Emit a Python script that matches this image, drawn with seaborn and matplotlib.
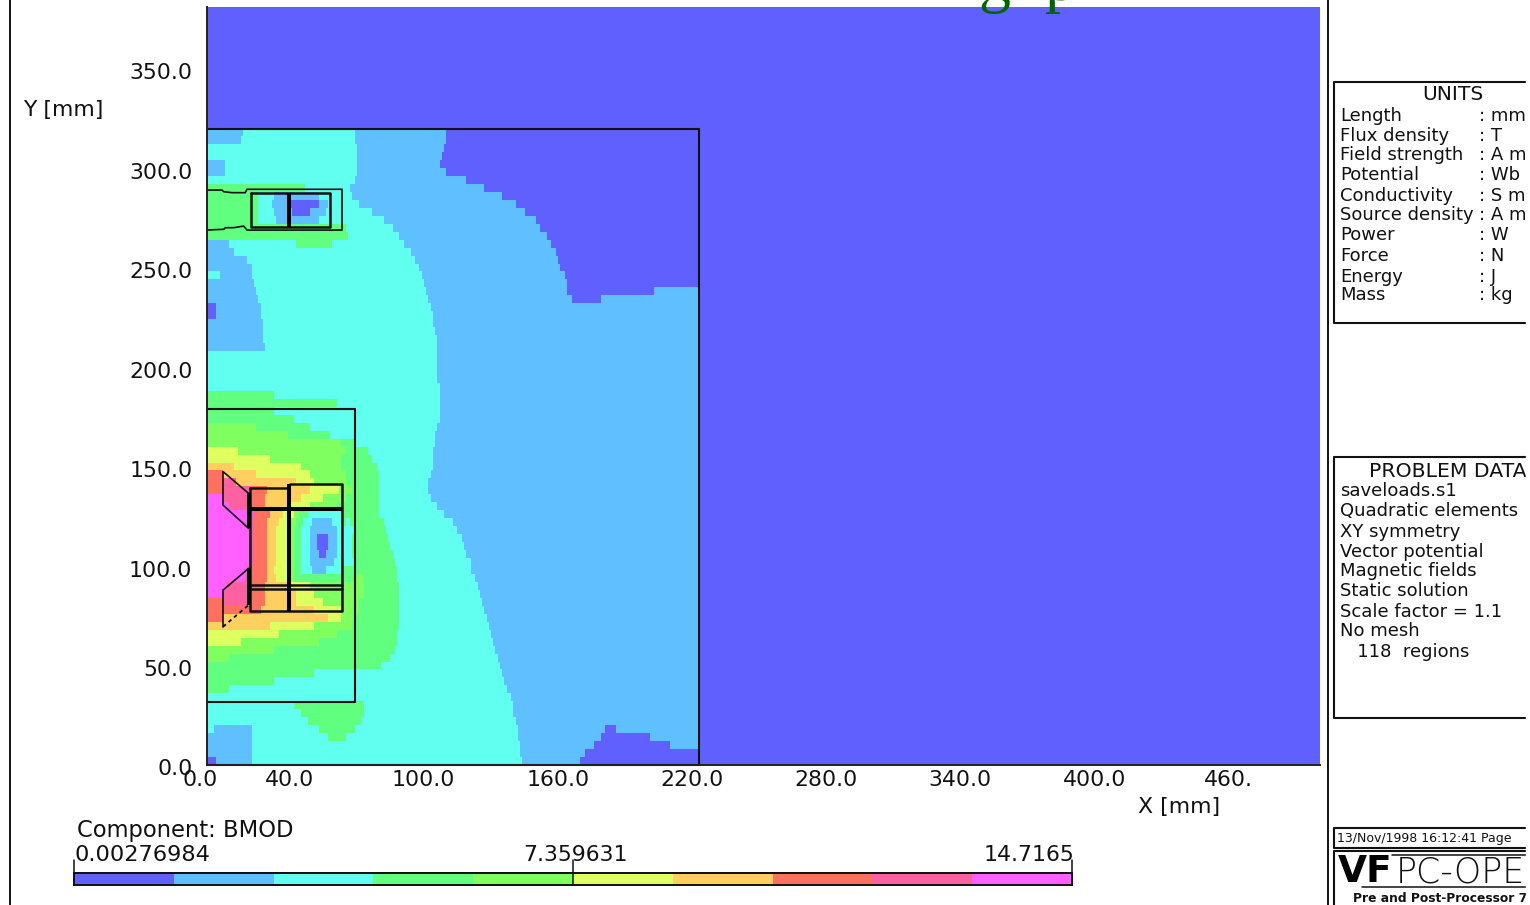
import numpy as np
import seaborn as sns
import matplotlib.pyplot as plt
from matplotlib.colors import ListedColormap

# BMOD bands, lowest to highest
band_colors = ["#6060FF", "#60BFFF", "#60FFEF", "#60FF80", "#80FF60",
               "#DFFF60", "#FFCF60", "#FF7060", "#FF60A0", "#FF60FF"]

# one row per 4 mm, y = 320 mm down to 0 mm, written as band:end_x_mm
band_rows = [
    "1:16 2:66 1:107 0:220",
    "1:15 2:66 1:107 0:220",
    "2:67 1:106 0:220",
    "2:67 1:105 0:220",
    "1:8 2:67 1:104 0:220",
    "1:8 2:67 1:107 0:220",
    "2:66 1:116 0:220",
    "3:44 2:64 1:124 0:220",
    "3:23 2:30 1:50 2:65 1:132 0:220",
    "3:23 2:29 1:36 0:50 1:54 2:68 1:138 0:220",
    "3:23 2:30 1:38 0:46 1:53 2:74 1:142 0:220",
    "3:23 2:31 1:50 2:79 1:147 0:220",
    "3:62 2:83 1:149 0:220",
    "3:63 2:86 1:152 0:220",
    "1:10 2:40 3:56 2:88 1:154 0:220",
    "1:12 2:91 1:156 0:220",
    "1:18 2:93 1:157 0:220",
    "1:20 2:95 1:158 0:220",
    "2:6 1:20 2:96 1:160 0:220",
    "1:21 2:97 1:161 0:220",
    "1:22 2:98 1:161 0:200 1:220",
    "1:23 2:99 1:163 0:176 1:220",
    "0:4 1:24 2:100 1:220",
    "0:4 1:24 2:101 1:220",
    "1:25 2:101 1:220",
    "1:25 2:102 1:220",
    "1:25 2:103 1:220",
    "1:26 2:103 1:220",
    "2:103 1:220",
    "2:103 1:220",
    "2:103 1:220",
    "2:103 1:220",
    "2:104 1:220",
    "3:30 2:104 1:220",
    "3:58 2:104 1:220",
    "3:30 2:104 1:220",
    "3:39 2:104 1:220",
    "4:22 3:46 2:103 1:220",
    "4:36 3:55 2:102 1:220",
    "4:60 3:66 2:102 1:220",
    "5:14 4:62 3:72 2:101 1:220",
    "5:28 4:60 3:74 2:101 1:220",
    "6:12 5:42 4:60 3:76 2:101 1:220",
    "7:7 6:22 5:46 4:62 3:77 2:100 1:220",
    "7:7 8:12 7:13 6:40 5:48 4:62 3:77 2:99 1:220",
    "7:7 8:20 7:27 6:46 5:59 4:65 3:77 2:99 1:220",
    "9:7 8:20 7:26 6:42 5:52 4:62 3:77 2:100 1:220",
    "9:10 8:19 7:26 6:36 5:46 4:58 3:77 2:103 1:220",
    "9:18 8:22 7:28 6:34 5:39 4:41 3:45 2:60 3:77 2:106 1:220",
    "9:19 8:21 7:27 6:32 5:37 4:40 3:43 2:47 1:56 2:60 3:62 2:64 3:79 2:110 1:220",
    "9:19 8:21 7:27 6:31 5:36 4:39 3:42 2:46 1:58 2:66 3:80 2:112 1:220",
    "9:19 8:21 7:27 6:31 5:36 4:39 3:42 2:46 1:49 0:54 1:58 2:65 3:81 2:114 1:220",
    "9:19 8:21 7:27 6:31 5:36 4:39 3:42 2:46 1:49 0:54 1:58 2:65 3:82 2:115 1:220",
    "9:19 8:21 7:27 6:31 5:36 4:39 3:42 2:46 1:50 0:53 1:58 2:65 3:83 2:116 1:220",
    "9:19 8:21 7:27 6:31 5:36 4:39 3:42 2:46 1:57 2:66 3:84 2:118 1:220",
    "9:18 8:20 7:27 6:30 5:36 4:39 3:42 2:47 1:53 2:60 3:85 2:118 1:220",
    "9:17 8:20 7:27 6:31 5:36 4:39 3:66 4:70 3:85 2:120 1:220",
    "9:9 8:18 7:26 6:36 5:46 4:70 3:86 2:121 1:220",
    "9:7 8:19 7:26 6:40 5:48 4:70 3:86 2:122 1:220",
    "7:7 8:18 7:26 6:40 5:52 4:68 3:86 2:123 1:220",
    "7:24 6:48 5:60 4:68 3:86 2:124 1:220",
    "7:7 6:54 5:60 4:66 3:86 2:125 1:220",
    "6:28 5:48 4:65 3:86 2:126 1:220",
    "5:32 4:58 3:85 2:127 1:220",
    "5:15 4:50 3:85 2:128 1:220",
    "4:30 3:84 2:129 1:220",
    "4:10 3:82 2:130 1:220",
    "3:78 2:131 1:220",
    "3:48 2:132 1:220",
    "3:30 2:133 1:220",
    "3:10 2:134 1:220",
    "2:136 1:220",
    "2:39 3:70 2:137 1:220",
    "2:42 3:70 2:137 1:220",
    "2:45 3:69 2:138 1:220",
    "2:3 1:20 2:50 3:66 2:139 1:178 0:183 1:220",
    "1:20 2:54 3:62 2:139 1:176 0:198 1:220",
    "1:20 2:140 1:173 0:207 1:220",
    "1:20 2:140 1:169 0:220",
    "0:4 1:20 2:141 1:167 0:220",
]

x_ticks = [0, 40, 100, 160, 220, 280, 340, 400, 460]
x_labels = ["0.0", "40.0", "100.0", "160.0", "220.0", "280.0", "340.0", "400.0", "460."]
y_ticks = [0, 50, 100, 150, 200, 250, 300, 350]
y_labels = ["0.0", "50.0", "100.0", "150.0", "200.0", "250.0", "300.0", "350.0"]

# model outlines in mm
outer_box = ([0, 220, 220, 0], [319.6, 319.6, 0, 0])
lower_box = ([0, 66.3, 66.3, 0], [178.7, 178.7, 31.8, 31.8])
thin_lines = [
    ([0, 6.7, 7.5, 11.2, 17.1, 17.9, 60.4, 60.4, 17.9, 16.4, 11.9, 8.2, 7.5, 0],
     [288.9, 288.9, 288.1, 287.6, 287.6, 289.3, 289.3, 268.8, 268.8, 270.8, 270, 270, 269.2, 268.8]),
    ([7.2, 18.6], [147.4, 136.5]),
    ([7.2, 7.2], [147.4, 130.6]),
    ([7.2, 18.6], [130.6, 118.9]),
    ([7.2, 18.6], [87.9, 98.8]),
    ([7.2, 7.2], [87.9, 69.5]),
]
medium_lines = [
    ([19.8, 55.1, 55.1, 19.8, 19.8], [287.2, 287.2, 270.5, 270.5, 287.2]),
    ([19.4, 36.5], [139, 139]),
    ([37.3, 60.4, 60.4, 19.4, 19.4], [141.2, 141.2, 77.5, 77.5, 139]),
    ([19.4, 60.4], [90.4, 90.4]),
    ([19.4, 60.4], [88.4, 88.4]),
]
thick_lines = [
    ([36.8, 36.8], [287.2, 270.5]),
    ([36.8, 36.8], [141.2, 77.5]),
    ([19.4, 60.4], [128.5, 128.5]),
    ([18.8, 18.8], [136.5, 118.9]),
    ([18.8, 18.8], [98.8, 80.4]),
]
dotted_line = ([7.2, 18.6], [69.5, 80.4])

scale_labels = ["0.00276984", "7.359631", "14.7165"]
unit_names = ["Length", "Flux density", "Field strength", "Potential", "Conductivity",
              "Source density", "Power", "Force", "Energy", "Mass"]
unit_values = [": mm", ": T", ": A m", ": Wb", ": S m", ": A m", ": W", ": N", ": J", ": kg"]
unit_rows = [116, 136, 155, 175, 196, 215, 235, 256, 277, 295]
problem_lines = ["saveloads.s1", "Quadratic elements", "XY symmetry", "Vector potential",
                 "Magnetic fields", "Static solution", "Scale factor = 1.1", "No mesh",
                 "   118  regions"]
problem_rows = [491, 511, 532, 552, 571, 591, 612, 631, 652]

FIG_W, FIG_H = 1530, 905
L, R, T, B = 207, 1320, 7, 765
X_MAX, Y_MAX = 497.7, 380.9


def build_field():
    # 1 mm columns, 4 mm rows, everything outside the model is the lowest band
    field = np.zeros((96, 498), dtype=int)
    for i, row in enumerate(band_rows):
        start = 0
        for run in row.split():
            band, end = run.split(":")
            field[i + 16, start:int(end)] = int(band)
            start = int(end)
    return field


def pix_axes(left, top, right, bottom, **kw):
    return fig.add_axes([left / FIG_W, 1 - bottom / FIG_H,
                         (right - left) / FIG_W, (bottom - top) / FIG_H], **kw)


sns.set_theme(style="white")
plt.rcParams["font.family"] = ["DejaVu Sans"]
fig = plt.figure(figsize=(FIG_W / 100, FIG_H / 100), dpi=100)
cmap = ListedColormap(band_colors)

# field
ax = pix_axes(L, T, R, B)
sns.heatmap(build_field(), ax=ax, cmap=cmap, vmin=-0.5, vmax=9.5, cbar=False,
            xticklabels=False, yticklabels=False, rasterized=True)
ax.set_xlim(0, X_MAX)
ax.set_ylim(96, 96 - Y_MAX / 4)

# outlines and axis text in mm
mm = pix_axes(L, T, R, B, facecolor="none")
mm.set_xlim(0, X_MAX)
mm.set_ylim(0, Y_MAX)
for s in ["top", "right"]:
    mm.spines[s].set_visible(False)
for s in ["left", "bottom"]:
    mm.spines[s].set_color("#222222")
    mm.spines[s].set_linewidth(1.4)
mm.set_xticks([])
mm.set_yticks([])
for xs, ys in [outer_box, lower_box]:
    mm.plot(xs, ys, color="#111111", lw=1.5, clip_on=False)
for xs, ys in thin_lines:
    mm.plot(xs, ys, color="#111111", lw=1.2)
for xs, ys in medium_lines:
    mm.plot(xs, ys, color="#111111", lw=1.8)
for xs, ys in thick_lines:
    mm.plot(xs, ys, color="black", lw=2.9, solid_capstyle="butt")
mm.plot(*dotted_line, color="black", lw=1.3, ls=(0, (2, 2)))
for val, lab in zip(x_ticks, x_labels):
    mm.annotate(lab, (val, 0), xytext=(-5, -10.5), textcoords="offset points",
                ha="center", va="center", fontsize=15.8, color="#111111", annotation_clip=False)
for val, lab in zip(y_ticks, y_labels):
    off = -3 if val == 0 else -3.6
    mm.annotate(lab, (0, val), xytext=(-10.5, off), textcoords="offset points",
                ha="right", va="center", fontsize=15.8, color="#111111", annotation_clip=False)

# colour scale
cb = pix_axes(74, 873, 1072, 885)
sns.heatmap(np.arange(10).reshape(1, -1), ax=cb, cmap=cmap, vmin=-0.5, vmax=9.5, cbar=False,
            xticklabels=False, yticklabels=False, rasterized=True)
for s in cb.spines.values():
    s.set_visible(True)
    s.set_color("#111111")
    s.set_linewidth(1.4)

# everything else sits on a page in pixel coordinates
page = pix_axes(0, 0, FIG_W, FIG_H, facecolor="none")
page.set_xlim(0, FIG_W)
page.set_ylim(FIG_H, 0)
page.axis("off")
ink = "#111111"
for x in [10, 1328]:
    page.plot([x, x], [0, FIG_H], color=ink, lw=1.4)
for x in [74, 573, 1072]:
    page.plot([x, x], [860, 885], color=ink, lw=1.1)
page.plot([74, 1072], [873, 873], color=ink, lw=1.2)
for top, bottom in [(82, 323), (457, 718), (828, 848), (851, 915)]:
    page.plot([1540, 1334, 1334, 1540], [top, top, bottom, bottom], color=ink, lw=1.5)
page.plot([1362, 1540], [887, 887], color=ink, lw=1.1)
page.plot([1392, 1540], [855, 855], color=ink, lw=1.1)


def txt(x, y, s, size=15.8, **kw):
    kw.setdefault("va", "center")
    return page.text(x, y, s, fontsize=size, color=kw.pop("color", ink), **kw)


txt(23, 110, "Y [mm]")
txt(1138, 807, "X [mm]")
txt(77, 830, "Component: BMOD", size=16.3)
txt(75, 855, scale_labels[0], size=16.2)
txt(523, 855, scale_labels[1])
txt(984, 855, scale_labels[2])

txt(1422, 95, "UNITS", size=14.6)
for name, value, y in zip(unit_names, unit_values, unit_rows):
    txt(1340, y, name, size=13)
    txt(1479, y, value, size=13)
txt(1369, 471, "PROBLEM DATA", size=14.7)
for line, y in zip(problem_lines, problem_rows):
    txt(1340, y, line, size=13)
txt(1337, 838, "13/Nov/1998 16:12:41 Page", size=9)
txt(1338, 872, "VF", size=27, fontweight="bold", color="black")
txt(1396, 872, "PC-OPE", size=25, fontweight="ultralight")
txt(1353, 898, "Pre and Post-Processor 7.", size=8.8, fontweight="bold")

# what is left of the cut-off green heading
for x, ch in [(978, "g"), (1045, "p")]:
    page.text(x, 0, ch, fontsize=46, color="#006400", family="Liberation Serif",
              va="baseline", ha="left", clip_on=False)

# page ends a few pixels before the image does
page.fill_between([1526, 1530], 0, FIG_H, color="white", zorder=10)

fig.savefig("out.png", dpi=100)
